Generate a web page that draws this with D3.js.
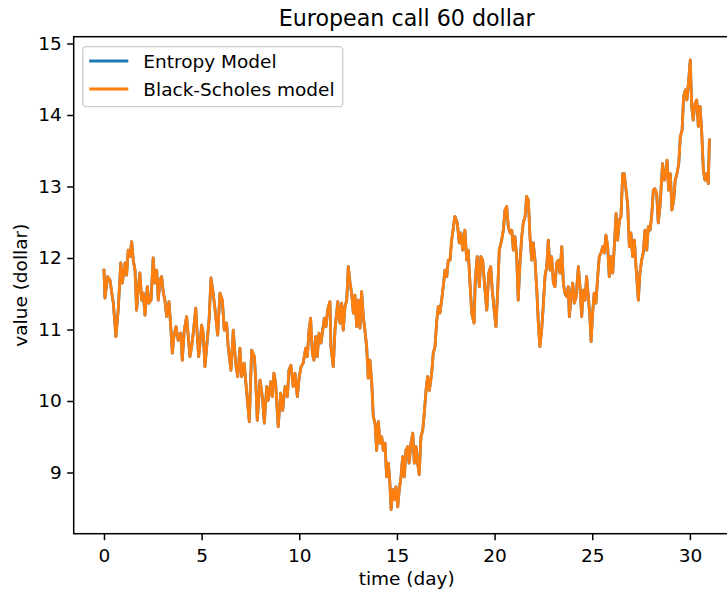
<!DOCTYPE html>
<html>
<head>
<meta charset="utf-8">
<script src="https://cdn.jsdelivr.net/npm/d3@7"></script>
<style>
  html, body { margin: 0; padding: 0; background: #fff; }
  svg { display: block; font-family: "DejaVu Sans", sans-serif; }
</style>
</head>
<body>
<svg id="chart" width="727" height="592"></svg>
<script>
const chartTitle = "European call 60 dollar";
const xLabel = "time (day)";
const yLabel = "value (dollar)";
const seriesNames = ["Entropy Model", "Black-Scholes model"];
const xTicks = [0, 5, 10, 15, 20, 25, 30];
const yTicks = [9, 10, 11, 12, 13, 14, 15];
const xLimits = [-1.55, 32.55];
const yLimits = [8.144, 15.095];

const days = [
0.00,0.05,0.19,0.31,0.39,0.48,0.61,0.73,0.86,0.94,1.08,1.16,1.24,1.33,1.42,1.50,1.59,1.67,1.76,1.84,1.93,2.01,2.10,2.22,2.30,2.41,2.52,2.61,2.70,2.78,2.87,2.95,3.04,3.12,3.21,3.33,3.43,3.50,3.58,3.69,3.80,3.93,4.01,4.11,4.23,4.32,4.40,4.49,4.57,4.70,4.78,4.85,4.92,5.00,5.08,5.17,5.26,5.38,5.48,5.57,5.68,
5.82,5.94,6.06,6.16,6.28,6.36,6.50,6.62,6.74,6.85,6.96,7.05,7.18,7.31,7.44,7.56,7.70,7.77,7.85,7.99,8.11,8.21,8.33,8.41,8.54,8.62,8.70,8.79,8.92,9.05,9.15,9.27,9.39,9.47,9.57,9.69,9.78,9.90,10.00,10.09,10.20,10.33,10.41,10.50,10.58,10.67,10.75,10.84,10.92,11.01,11.11,11.20,11.28,11.37,11.45,11.57,11.62,11.74,
11.83,11.97,12.08,12.17,12.25,12.34,12.43,12.51,12.60,12.68,12.77,12.85,12.94,13.02,13.11,13.19,13.28,13.36,13.45,13.53,13.62,13.71,13.79,13.88,13.96,14.05,14.13,14.22,14.30,14.39,14.47,14.56,14.64,14.70,14.78,14.86,14.95,15.04,15.12,15.21,15.29,15.38,15.46,15.55,15.62,15.72,15.81,15.89,15.98,16.06,16.14,16.23,16.32,16.40,16.49,16.57,16.66,16.78,16.86,16.95,17.04,17.12,17.20,17.29,17.37,17.46,17.55,17.63,17.72,
17.80,17.97,18.09,18.19,18.28,18.37,18.48,18.57,18.65,18.74,18.83,18.95,19.01,19.11,19.22,19.30,19.39,19.51,19.60,19.70,19.80,19.88,19.98,20.07,20.16,20.24,20.36,20.45,20.53,20.62,20.70,20.79,20.88,20.96,21.04,21.13,21.21,21.30,21.39,21.47,21.56,21.64,21.73,21.81,21.90,21.98,22.07,22.16,22.24,22.32,22.41,22.49,22.58,22.67,22.75,22.84,22.92,23.01,23.09,23.18,23.26,23.35,23.44,23.52,23.60,23.69,23.77,23.83,23.91,24.00,24.08,
24.17,24.29,24.37,24.46,24.54,24.63,24.71,24.80,24.88,24.94,25.02,25.10,25.19,25.28,25.36,25.45,25.54,25.62,25.70,25.79,25.87,25.96,26.05,26.13,26.22,26.30,26.39,26.47,26.56,26.64,26.73,26.81,26.90,26.98,27.07,27.16,27.24,27.36,27.44,27.53,27.61,27.70,27.79,27.87,27.96,28.04,28.13,28.21,28.30,28.38,28.47,28.55,28.60,28.69,28.77,28.83,28.91,29.00,29.08,29.17,29.25,29.34,29.43,29.51,29.60,29.68,29.77,29.85,29.94,30.02,30.09,30.17,30.26,30.35,30.43,30.52,30.60,30.69,30.77,30.86,30.94,31.00
];

const entropyValues = [
11.83,11.44,11.74,11.69,11.53,11.37,10.90,11.27,11.93,11.65,11.93,11.76,12.11,12.02,12.23,11.97,11.83,11.27,11.60,11.79,11.41,11.51,11.20,11.60,11.37,11.41,12.00,11.65,11.83,11.41,11.69,11.74,11.51,11.41,11.18,11.39,10.99,10.67,10.90,11.04,10.85,10.95,10.57,10.99,11.18,10.90,10.62,10.76,10.95,11.30,10.90,10.62,10.81,11.06,10.95,10.48,10.76,11.13,11.72,11.55,11.30,
10.92,11.51,11.41,10.99,11.09,10.76,10.43,10.99,10.53,10.34,10.74,10.34,10.53,10.11,9.71,10.71,10.62,10.29,9.73,10.29,10.06,9.69,10.20,10.01,10.27,10.06,10.39,10.25,9.64,10.11,9.87,10.20,10.06,10.43,10.50,10.20,10.39,10.06,10.34,10.48,10.53,10.74,10.62,10.99,11.16,10.67,10.57,10.90,10.62,10.95,10.81,10.99,11.16,11.04,11.27,11.39,10.76,10.48,
11.00,11.39,11.09,11.37,10.99,11.32,11.41,11.88,11.65,11.51,11.23,11.48,11.04,11.41,11.02,11.53,11.18,10.99,10.76,10.32,10.57,10.25,9.78,9.69,9.31,9.71,9.41,9.50,9.31,9.41,8.94,9.13,8.85,8.48,8.76,8.62,8.80,8.52,8.76,8.94,9.22,8.94,9.31,9.36,9.13,9.41,9.55,9.13,9.36,9.13,8.97,9.50,9.59,9.83,10.15,10.34,10.15,10.39,10.67,10.76,11.13,11.32,11.23,11.41,11.60,11.83,11.74,11.97,11.97,
12.25,12.58,12.49,12.21,12.35,12.11,12.39,11.97,12.11,11.65,11.23,11.09,11.69,12.02,11.60,12.02,11.97,11.55,11.27,11.79,11.88,11.55,11.27,11.04,11.55,12.11,12.25,12.39,12.67,12.72,12.44,12.35,12.39,12.11,12.30,12.02,11.41,11.93,12.30,12.49,12.58,12.86,12.81,12.30,11.97,12.21,11.97,11.55,11.09,10.76,10.99,11.32,11.74,11.88,12.25,11.83,12.02,11.65,11.60,11.93,11.97,11.79,12.16,11.65,11.51,11.46,11.60,11.18,11.46,11.65,11.37,
11.45,11.88,11.60,11.18,11.55,11.41,11.74,11.46,11.18,10.83,11.23,11.51,11.37,11.74,12.02,12.07,12.16,12.07,12.32,12.16,11.74,12.02,11.79,12.16,12.62,12.25,12.53,12.58,13.18,13.18,12.95,12.76,12.16,12.35,12.02,12.25,11.88,11.41,11.79,11.97,12.07,12.39,12.11,12.44,12.39,12.58,12.95,12.97,12.90,12.49,12.72,13.09,13.32,13.09,13.18,13.37,12.95,13.18,12.67,12.81,13.09,13.18,13.32,13.70,13.79,14.26,14.35,14.21,14.49,14.77,14.12,13.93,14.16,14.21,13.84,14.12,13.79,13.23,13.09,13.18,13.04,13.65
];

const blackScholesValues = [
11.83,11.44,11.74,11.69,11.53,11.37,10.90,11.27,11.93,11.65,11.93,11.76,12.11,12.02,12.23,11.97,11.83,11.27,11.60,11.79,11.41,11.51,11.20,11.60,11.37,11.41,12.00,11.65,11.83,11.41,11.69,11.74,11.51,11.41,11.18,11.39,10.99,10.67,10.90,11.04,10.85,10.95,10.57,10.99,11.18,10.90,10.62,10.76,10.95,11.30,10.90,10.62,10.81,11.06,10.95,10.48,10.76,11.13,11.72,11.55,11.30,
10.92,11.51,11.41,10.99,11.09,10.76,10.43,10.99,10.53,10.34,10.74,10.34,10.53,10.11,9.71,10.71,10.62,10.29,9.73,10.29,10.06,9.69,10.20,10.01,10.27,10.06,10.39,10.25,9.64,10.11,9.87,10.20,10.06,10.43,10.50,10.20,10.39,10.06,10.34,10.48,10.53,10.74,10.62,10.99,11.16,10.67,10.57,10.90,10.62,10.95,10.81,10.99,11.16,11.04,11.27,11.39,10.76,10.48,
11.00,11.39,11.09,11.37,10.99,11.32,11.41,11.88,11.65,11.51,11.23,11.48,11.04,11.41,11.02,11.53,11.18,10.99,10.76,10.32,10.57,10.25,9.78,9.69,9.31,9.71,9.41,9.50,9.31,9.41,8.94,9.13,8.85,8.48,8.76,8.62,8.80,8.52,8.76,8.94,9.22,8.94,9.31,9.36,9.13,9.41,9.55,9.13,9.36,9.13,8.97,9.50,9.59,9.83,10.15,10.34,10.15,10.39,10.67,10.76,11.13,11.32,11.23,11.41,11.60,11.83,11.74,11.97,11.97,
12.25,12.58,12.49,12.21,12.35,12.11,12.39,11.97,12.11,11.65,11.23,11.09,11.69,12.02,11.60,12.02,11.97,11.55,11.27,11.79,11.88,11.55,11.27,11.04,11.55,12.11,12.25,12.39,12.67,12.72,12.44,12.35,12.39,12.11,12.30,12.02,11.41,11.93,12.30,12.49,12.58,12.86,12.81,12.30,11.97,12.21,11.97,11.55,11.09,10.76,10.99,11.32,11.74,11.88,12.25,11.83,12.02,11.65,11.60,11.93,11.97,11.79,12.16,11.65,11.51,11.46,11.60,11.18,11.46,11.65,11.37,
11.45,11.88,11.60,11.18,11.55,11.41,11.74,11.46,11.18,10.83,11.23,11.51,11.37,11.74,12.02,12.07,12.16,12.07,12.32,12.16,11.74,12.02,11.79,12.16,12.62,12.25,12.53,12.58,13.18,13.18,12.95,12.76,12.16,12.35,12.02,12.25,11.88,11.41,11.79,11.97,12.07,12.39,12.11,12.44,12.39,12.58,12.95,12.97,12.90,12.49,12.72,13.09,13.32,13.09,13.18,13.37,12.95,13.18,12.67,12.81,13.09,13.18,13.32,13.70,13.79,14.26,14.35,14.21,14.49,14.77,14.12,13.93,14.16,14.21,13.84,14.12,13.79,13.23,13.09,13.18,13.04,13.65
];

const colors = ["#1f77b4", "#ff7f0e"];

const svg = d3.select("#chart");
const margin = { left: 73.7, top: 36.7 };
const plotW = 666, plotH = 497;
const fontSize = 18.5;

const x = d3.scaleLinear().domain(xLimits).range([margin.left, margin.left + plotW]);
const y = d3.scaleLinear().domain(yLimits).range([margin.top + plotH, margin.top]);

svg.append("defs").append("clipPath").attr("id", "clip")
  .append("rect").attr("x", margin.left).attr("y", margin.top)
  .attr("width", plotW).attr("height", plotH);

const series = [entropyValues, blackScholesValues];
const line = d3.line().x((d, i) => x(days[i])).y(d => y(d));

const plotG = svg.append("g").attr("clip-path", "url(#clip)");
series.forEach((vals, k) => {
  plotG.append("path")
    .datum(vals)
    .attr("fill", "none")
    .attr("stroke", colors[k])
    .attr("stroke-width", 2.8)
    .attr("stroke-linejoin", "round")
    .attr("stroke-linecap", "square")
    .attr("d", line);
});

// axes
const xAxis = d3.axisBottom(x).tickValues(xTicks).tickSize(6.5).tickPadding(8.4).tickFormat(d3.format("d"));
const yAxis = d3.axisLeft(y).tickValues(yTicks).tickSize(6.5).tickPadding(5.5).tickFormat(d3.format("d"));

const gx = svg.append("g").attr("transform", `translate(0,${margin.top + plotH})`).call(xAxis);
const gy = svg.append("g").attr("transform", `translate(${margin.left},0)`).call(yAxis);
[gx, gy].forEach(g => {
  g.select(".domain").remove();
  g.selectAll(".tick line").attr("stroke", "#000").attr("stroke-width", 1.5);
  g.selectAll(".tick text").attr("fill", "#000")
    .style("font-family", "DejaVu Sans").style("font-size", fontSize + "px");
});

// spines
svg.append("rect")
  .attr("x", margin.left).attr("y", margin.top)
  .attr("width", plotW).attr("height", plotH)
  .attr("fill", "none").attr("stroke", "#000").attr("stroke-width", 1.5);

// title & labels
svg.append("text").attr("x", margin.left + plotW / 2).attr("y", 26)
  .attr("text-anchor", "middle").style("font-size", "22.2px").attr("fill", "#000")
  .text(chartTitle);
svg.append("text").attr("x", margin.left + plotW / 2).attr("y", 585)
  .attr("text-anchor", "middle").style("font-size", fontSize + "px").attr("fill", "#000")
  .text(xLabel);
svg.append("text")
  .attr("transform", `translate(26.5,${margin.top + plotH / 2}) rotate(-90)`)
  .attr("text-anchor", "middle").style("font-size", fontSize + "px").attr("fill", "#000")
  .text(yLabel);

// legend
const lg = svg.append("g");
lg.append("rect").attr("x", 82.7).attr("y", 46.7).attr("width", 260).attr("height", 60)
  .attr("rx", 3.5).attr("fill", "#fff").attr("fill-opacity", 0.8)
  .attr("stroke", "#cccccc").attr("stroke-width", 1.3);
seriesNames.forEach((name, i) => {
  const yy = 61 + i * 28;
  lg.append("line").attr("x1", 89.3).attr("x2", 128.3).attr("y1", yy).attr("y2", yy)
    .attr("stroke", colors[i]).attr("stroke-width", 2.8);
  lg.append("text").attr("x", 143.3).attr("y", yy + 6.5)
    .style("font-size", fontSize + "px").attr("fill", "#000").text(name);
});
</script>
</body>
</html>
